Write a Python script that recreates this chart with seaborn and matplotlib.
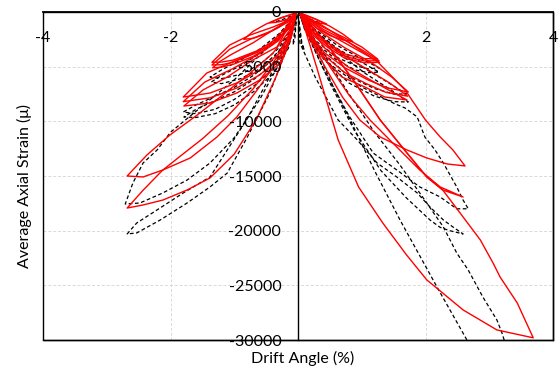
import matplotlib
matplotlib.use("Agg")
import matplotlib.pyplot as plt
import pandas as pd
import seaborn as sns

# Drift angle (%) and average axial strain (micro) for each hysteresis loop,
# traced from the origin out to the peak and back again.
analysis_x = [
    [0.03, 0.15, 0.30, 0.45, 0.35, 0.20, 0.08, 0.03],
    [-0.03, -0.15, -0.30, -0.45, -0.35, -0.20, -0.08, -0.03],
    [0.03, 0.25, 0.50, 0.70, 0.86, 0.70, 0.50, 0.30, 0.12, 0.03],
    [-0.03, -0.25, -0.50, -0.70, -0.85, -0.70, -0.50, -0.30, -0.12, -0.03],
    [0.03, 0.11, 0.42, 0.74, 1.00, 1.25, 1.00, 0.74, 0.47, 0.22, 0.03],
    [0.03, 0.40, 0.74, 1.00, 1.27, 1.05, 0.74, 0.47, 0.22, 0.03],
    [0.03, 0.40, 0.74, 1.00, 1.28, 1.05, 0.74, 0.47, 0.22, 0.03],
    [-0.03, -0.13, -0.39, -0.75, -1.07, -1.35, -1.20, -1.02, -0.64, -0.33, -0.08, -0.03],
    [-0.03, -0.15, -0.40, -0.75, -1.07, -1.35, -1.20, -1.02, -0.64, -0.33, -0.08, -0.03],
    [-0.03, -0.30, -0.70, -1.05, -1.22, -1.34, -1.20, -1.00, -0.70, -0.40, -0.15, -0.03],
    [0.03, 0.38, 0.74, 1.16, 1.47, 1.73, 1.41, 1.10, 0.74, 0.42, 0.15, 0.03],
    [0.03, 0.40, 0.76, 1.13, 1.44, 1.72, 1.38, 1.07, 0.72, 0.40, 0.15, 0.03],
    [0.03, 0.42, 0.78, 1.10, 1.41, 1.71, 1.36, 1.05, 0.69, 0.38, 0.15, 0.03],
    [-0.03, -0.20, -0.49, -0.96, -1.43, -1.80, -1.38, -0.96, -0.60, -0.28, -0.10, -0.03],
    [-0.03, -0.30, -0.60, -1.03, -1.46, -1.80, -1.38, -0.96, -0.60, -0.28, -0.10, -0.03],
    [-0.03, -0.33, -0.71, -1.11, -1.49, -1.79, -1.38, -0.96, -0.60, -0.28, -0.10, -0.03],
    [0.03, 0.40, 0.74, 1.25, 1.68, 2.00, 2.23, 2.43, 2.62,
     2.34, 2.02, 1.71, 1.29, 0.97, 0.70, 0.45, 0.20, 0.03],
    [0.03, 0.15, 0.50, 0.90, 1.29, 1.71, 2.02, 2.27, 2.59,
     2.23, 1.91, 1.55, 1.13, 0.80, 0.50, 0.25, 0.03],
    [0.04, 0.30, 0.63, 0.95, 1.33, 1.70, 2.02, 2.59, 3.12, 3.69,
     3.44, 3.17, 3.06, 2.86, 2.59, 2.27, 2.02, 1.71, 1.29, 0.90, 0.50, 0.15, 0.04],
    [-0.03, -0.12, -0.39, -0.75, -1.18, -1.58, -2.01, -2.37, -2.68,
     -2.43, -2.12, -1.69, -1.27, -0.96, -0.64, -0.39, -0.17, -0.03],
    [-0.03, -0.10, -0.35, -0.70, -1.10, -1.50, -1.85, -2.13, -2.43, -2.68,
     -2.43, -2.12, -1.74, -1.38, -1.00, -0.65, -0.35, -0.12, -0.03],
]
analysis_y = [
    [-100, -350, -700, -1100, -1050, -800, -400, -100],
    [-100, -300, -600, -1000, -950, -750, -380, -100],
    [-100, -600, -1300, -2000, -2700, -2550, -2150, -1500, -700, -100],
    [-100, -500, -1100, -1750, -2500, -2400, -2000, -1400, -650, -100],
    [-100, -460, -1460, -2380, -3200, -4300, -4250, -3850, -2850, -1750, -100],
    [-100, -1600, -2600, -3450, -4450, -4480, -4080, -3050, -1900, -100],
    [-100, -1750, -2850, -3700, -4600, -4650, -4250, -3250, -2050, -100],
    [-100, -730, -1370, -2100, -3020, -4600, -4580, -4400, -3550, -2450, -1100, -100],
    [-100, -900, -1700, -2500, -3400, -4850, -4820, -4600, -3700, -2600, -1200, -100],
    [-100, -1300, -2800, -3900, -4500, -5100, -5050, -4750, -4050, -3000, -1500, -100],
    [-100, -1920, -3290, -4660, -5950, -7320, -6950, -6220, -5120, -3750, -1700, -100],
    [-100, -2500, -4100, -5400, -6500, -7700, -7350, -6550, -5500, -3900, -1850, -100],
    [-100, -3300, -5000, -6100, -7100, -8050, -7770, -6860, -5950, -4120, -2000, -100],
    [-100, -1500, -3200, -4390, -5580, -7780, -7410, -6490, -5300, -3750, -1800, -100],
    [-100, -2600, -3800, -5200, -6400, -8200, -7850, -6950, -5750, -4200, -2000, -100],
    [-100, -3200, -4390, -5950, -7130, -8600, -8320, -7410, -6220, -4660, -2200, -100],
    [-100, -1300, -2560, -4570, -7130, -9880, -11430, -12620, -14080,
     -13900, -13350, -12620, -11430, -9880, -7800, -5300, -2600, -100],
    [-100, -900, -3300, -6500, -9880, -12900, -15090, -16280, -16920,
     -16000, -14450, -12350, -9880, -7600, -5000, -2600, -100],
    [-200, -5200, -11700, -16000, -19300, -22200, -24500, -27250, -29080, -29800,
     -26620, -24240, -22960, -20850, -18750, -16280, -15090, -12900, -9880, -6500, -3300, -900, -200],
    [-100, -1600, -3750, -5580, -7590, -9420, -11250, -13080, -15000,
     -15090, -14450, -13350, -11430, -9600, -7130, -5030, -3000, -100],
    [-100, -1600, -4300, -7000, -9500, -11600, -13200, -14500, -16300, -17930,
     -17650, -17200, -16280, -15180, -13000, -9800, -6000, -2500, -100],
]

test_x = [
    [0.02, 0.10, 0.25, 0.35, 0.25, 0.10, 0.02],
    [-0.02, -0.10, -0.25, -0.35, -0.25, -0.10, -0.02],
    [0.00, 0.03, 0.06, 0.10, 0.06, 0.02, 0.00],
    [-0.02, -0.05, -0.08, -0.05, -0.02],
    [0.03, 0.27, 0.63, 1.00, 1.27, 1.10, 0.90, 0.63, 0.27, 0.03],
    [0.03, 0.27, 0.63, 1.00, 1.27, 1.10, 0.90, 0.63, 0.27, 0.03],
    [0.03, 0.25, 0.60, 1.00, 1.40, 1.70, 1.50, 1.20, 0.80, 0.40, 0.10, 0.03],
    [0.03, 0.30, 0.65, 1.05, 1.45, 1.73, 1.50, 1.20, 0.80, 0.40, 0.10, 0.03],
    [-0.03, -0.08, -0.30, -0.60, -0.90, -1.20, -1.38, -1.20, -0.90, -0.60, -0.30, -0.08, -0.03],
    [-0.03, -0.08, -0.30, -0.60, -0.90, -1.20, -1.36, -1.20, -0.90, -0.60, -0.30, -0.08, -0.03],
    [-0.03, -0.15, -0.40, -0.70, -1.00, -1.30, -1.60, -1.80,
     -1.60, -1.30, -1.00, -0.70, -0.40, -0.15, -0.03],
    [-0.03, -0.15, -0.40, -0.70, -1.00, -1.30, -1.60, -1.79,
     -1.60, -1.30, -1.00, -0.70, -0.40, -0.15, -0.03],
    [0.03, 0.11, 0.47, 1.00, 1.52, 1.68, 1.87, 1.99, 2.15, 2.28, 2.49, 2.59, 2.67,
     2.49, 2.23, 1.91, 1.55, 1.18, 0.80, 0.40, 0.10, 0.03],
    [0.00, 0.03, 0.27, 0.63, 0.93, 1.24, 1.55, 1.87, 2.07, 2.28, 2.43, 2.59,
     2.38, 2.23, 2.07, 1.70, 1.30, 0.90, 0.50, 0.15, 0.03],
    [0.03, 0.30, 0.55, 0.82, 1.20, 1.60, 2.18, 2.65, 2.70, 3.00, 3.25,
     3.20, 3.12, 2.90, 2.67, 2.49, 2.28, 2.00, 1.60, 1.20, 0.80, 0.40, 0.10, 0.03],
    [-0.03, -0.15, -0.50, -1.00, -1.50, -2.00, -2.21, -2.43, -2.59, -2.71,
     -2.48, -2.12, -1.74, -1.38, -1.00, -0.60, -0.30, -0.10, -0.03],
    [-0.03, -0.15, -0.45, -0.80, -1.11, -1.38, -1.80, -2.21, -2.53, -2.68,
     -2.53, -2.16, -1.74, -1.38, -1.11, -0.80, -0.45, -0.15, -0.03],
]
test_y = [
    [-100, -400, -800, -1000, -950, -600, -100],
    [-100, -350, -700, -900, -850, -550, -100],
    [-200, -1500, -2800, -3500, -3000, -1500, -200],
    [-200, -1600, -3000, -2500, -200],
    [-200, -1600, -3100, -4300, -5100, -5200, -4900, -4200, -2600, -200],
    [-200, -1800, -3400, -4600, -5500, -5550, -5300, -4500, -2800, -200],
    [-200, -1600, -3300, -5000, -6400, -7500, -7500, -7000, -5900, -3800, -1200, -200],
    [-200, -2000, -3800, -5600, -7100, -8230, -8200, -7700, -6500, -4300, -1400, -200],
    [-200, -600, -2000, -3400, -4400, -5300, -5950, -6100, -5700, -4800, -3300, -1200, -200],
    [-200, -700, -2300, -3800, -4900, -5800, -6400, -6550, -6100, -5200, -3600, -1300, -200],
    [-400, -2400, -4400, -5800, -6900, -7700, -8500, -9150,
     -9300, -8900, -8000, -6800, -5300, -3000, -400],
    [-400, -2700, -4800, -6200, -7300, -8100, -8900, -9600,
     -9650, -9300, -8500, -7300, -5700, -3300, -400],
    [-200, -1650, -4660, -6860, -8400, -8780, -9600, -11430, -12620, -13810, -16000, -17200, -18000,
     -18000, -16920, -16000, -14450, -12900, -9500, -5200, -1500, -200],
    [-300, -2830, -5950, -9880, -11700, -13810, -15090, -16550, -17830, -19020, -19660, -20300,
     -20000, -19700, -19020, -17000, -14500, -11000, -6500, -2000, -200],
    [-200, -3500, -6800, -9880, -14500, -19020, -25150, -30000, -30500, -31500, -30300,
     -29360, -28170, -26070, -23600, -22040, -19660, -17300, -14000, -11000, -7500, -3800, -1200, -200],
    [-200, -1200, -3400, -6200, -8600, -11000, -12620, -13810, -15640, -17560,
     -17470, -16550, -15370, -13810, -11500, -8000, -4800, -2000, -200],
    [-300, -2200, -6000, -9800, -12620, -15090, -16550, -18100, -19300, -20300,
     -20210, -19020, -17470, -16000, -14730, -11500, -7500, -3000, -300],
]

x_ticks = [-4, -2, 2, 4]
x_tick_labels = ["-4", "-2", "2", "4"]
y_ticks = [0, -5000, -10000, -15000, -20000, -25000, -30000]
y_tick_labels = ["0", "-5000", "-10000", "-15000", "-20000", "-25000", "-30000"]


def loops_frame(xs, ys, source):
    rows = []
    for i, (lx, ly) in enumerate(zip(xs, ys)):
        for order, (dx, sy) in enumerate(zip(lx, ly)):
            rows.append({"drift": dx, "strain": sy, "loop": f"{source}{i}",
                         "order": order})
    return pd.DataFrame(rows)


analysis_df = loops_frame(analysis_x, analysis_y, "analysis")
test_df = loops_frame(test_x, test_y, "test")

sns.set_theme(style="white")
plt.rcParams["font.family"] = ["Lato", "DejaVu Sans"]
plt.rcParams["axes.unicode_minus"] = False

fig = plt.figure(figsize=(5.58, 3.70), dpi=100)
ax = fig.add_axes([43 / 558, 30 / 370, 510 / 558, 328 / 370])

# light dashed gridlines sit underneath the curves
grid_style = dict(color="#d9d9d9", linestyle=(0, (3, 2)), linewidth=0.7, zorder=0.5)
for xv in x_ticks:
    ax.axvline(xv, **grid_style)
for yv in y_ticks:
    ax.axhline(yv, **grid_style)

sns.lineplot(data=test_df, x="drift", y="strain", units="loop", estimator=None,
             sort=False, color="black", linewidth=0.9, linestyle=(0, (3, 2)),
             legend=False, ax=ax)
sns.lineplot(data=analysis_df, x="drift", y="strain", units="loop", estimator=None,
             sort=False, color="#ff0000", linewidth=1.0, legend=False, ax=ax)

ax.set_xlim(-4, 4)
ax.set_ylim(-30000, 0)

ax.set_xticks(x_ticks)
ax.set_xticklabels(x_tick_labels)
ax.set_yticks(y_ticks)
ax.set_yticklabels(y_tick_labels)
ax.grid(False)
ax.set_axisbelow(False)

# the vertical axis crosses at zero drift, the horizontal one at zero strain (top)
ax.spines["left"].set_position(("data", 0))
for side in ("left", "top", "right", "bottom"):
    ax.spines[side].set_color("black")
    ax.spines[side].set_linewidth(1.0)
ax.spines["top"].set_linewidth(1.3)
ax.add_patch(plt.Rectangle((0, 0), 1, 1, transform=ax.transAxes, fill=False,
                           edgecolor="black", linewidth=1.0, clip_on=False, zorder=5))

ax.xaxis.set_ticks_position("top")
ax.tick_params(axis="x", length=0, labelsize=11.5, pad=-24, colors="black")
ax.tick_params(axis="y", length=0, labelsize=11.5, pad=12, colors="black")

ax.set_xlabel("Drift Angle (%)", fontsize=11.5, color="black")
ax.xaxis.set_label_position("bottom")
ax.xaxis.set_label_coords(0.51, -0.034)
ax.set_ylabel("Average Axial Strain (\u03bc)", fontsize=11.5, color="black")
ax.yaxis.set_label_coords(-0.022, 0.47)

fig.savefig("out.png", dpi=100)
